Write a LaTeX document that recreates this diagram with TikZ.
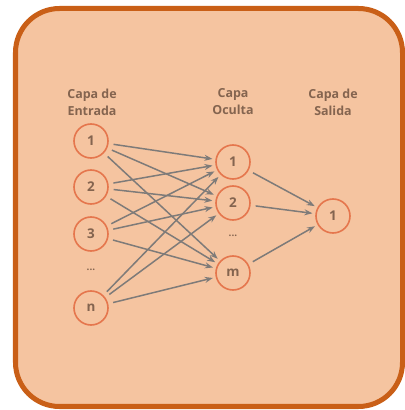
\documentclass[tikz,border=0pt]{standalone}
\usepackage{fontspec}
\usepackage{tkz-euclide}
\usetikzlibrary{arrows.meta}
\setmainfont{Open Sans}
\tikzset{>={Stealth[length=8bp,width=6bp]}}
\definecolor{fondo}{HTML}{F5C4A0}
\definecolor{marco}{HTML}{C95F17}
\definecolor{aro}{HTML}{E5764D}
\definecolor{letra}{HTML}{84644F}
\definecolor{gris}{HTML}{7E7B79}

\begin{document}
\begin{tikzpicture}[x=1bp, y=1bp,
    neurona/.style={circle, draw=aro, line width=1.6bp, minimum size=34bp, inner sep=0pt,
        text=letra, font=\fontsize{13.5}{13.5}\selectfont\bfseries},
    capa/.style={align=center, text=letra, font=\fontsize{12.5}{17}\selectfont\bfseries},
    puntos/.style={text=letra, font=\fontsize{10}{10}\selectfont\bfseries},
    flecha/.style={->, draw=gris, line width=1.5bp, shorten >=3bp, shorten <=5bp}]
    \useasboundingbox (0,0) rectangle (405,410);
    \draw[draw=marco, fill=fondo, line width=5bp, rounded corners=44bp] (15.5,3.5) rectangle (402.5,401.5);
    \tkzDefPoints{91/269/E1, 91/223/E2, 91/176/E3, 91/102/En, 233/248/O1, 233/207/O2, 233/137/Om, 333/194/S1}
    % capas
    \node[capa] (entrada) at (92,308) {Capa de\\Entrada};
    \node[capa] (oculta) at (233,308) {Capa\\Oculta};
    \node[capa] (salida) at (333,308) {Capa de\\Salida};
    % neuronas
    \node[neurona] (e1) at (E1) {1};
    \node[neurona] (e2) at (E2) {2};
    \node[neurona] (e3) at (E3) {3};
    \node[puntos] (pe) at (91,140) {...};
    \node[neurona] (en) at (En) {n};
    \node[neurona] (o1) at (O1) {1};
    \node[neurona] (o2) at (O2) {2};
    \node[puntos] (po) at (233,174) {...};
    \node[neurona] (om) at (Om) {m};
    \node[neurona] (s1) at (S1) {1};
    % conexiones
    \foreach \a in {e1,e2,e3,en}
        \foreach \b in {o1,o2,om}
            \draw[flecha] (\a) -- (\b);
    \foreach \b in {o1,o2,om}
        \draw[flecha] (\b) -- (s1);
\end{tikzpicture}
\end{document}
